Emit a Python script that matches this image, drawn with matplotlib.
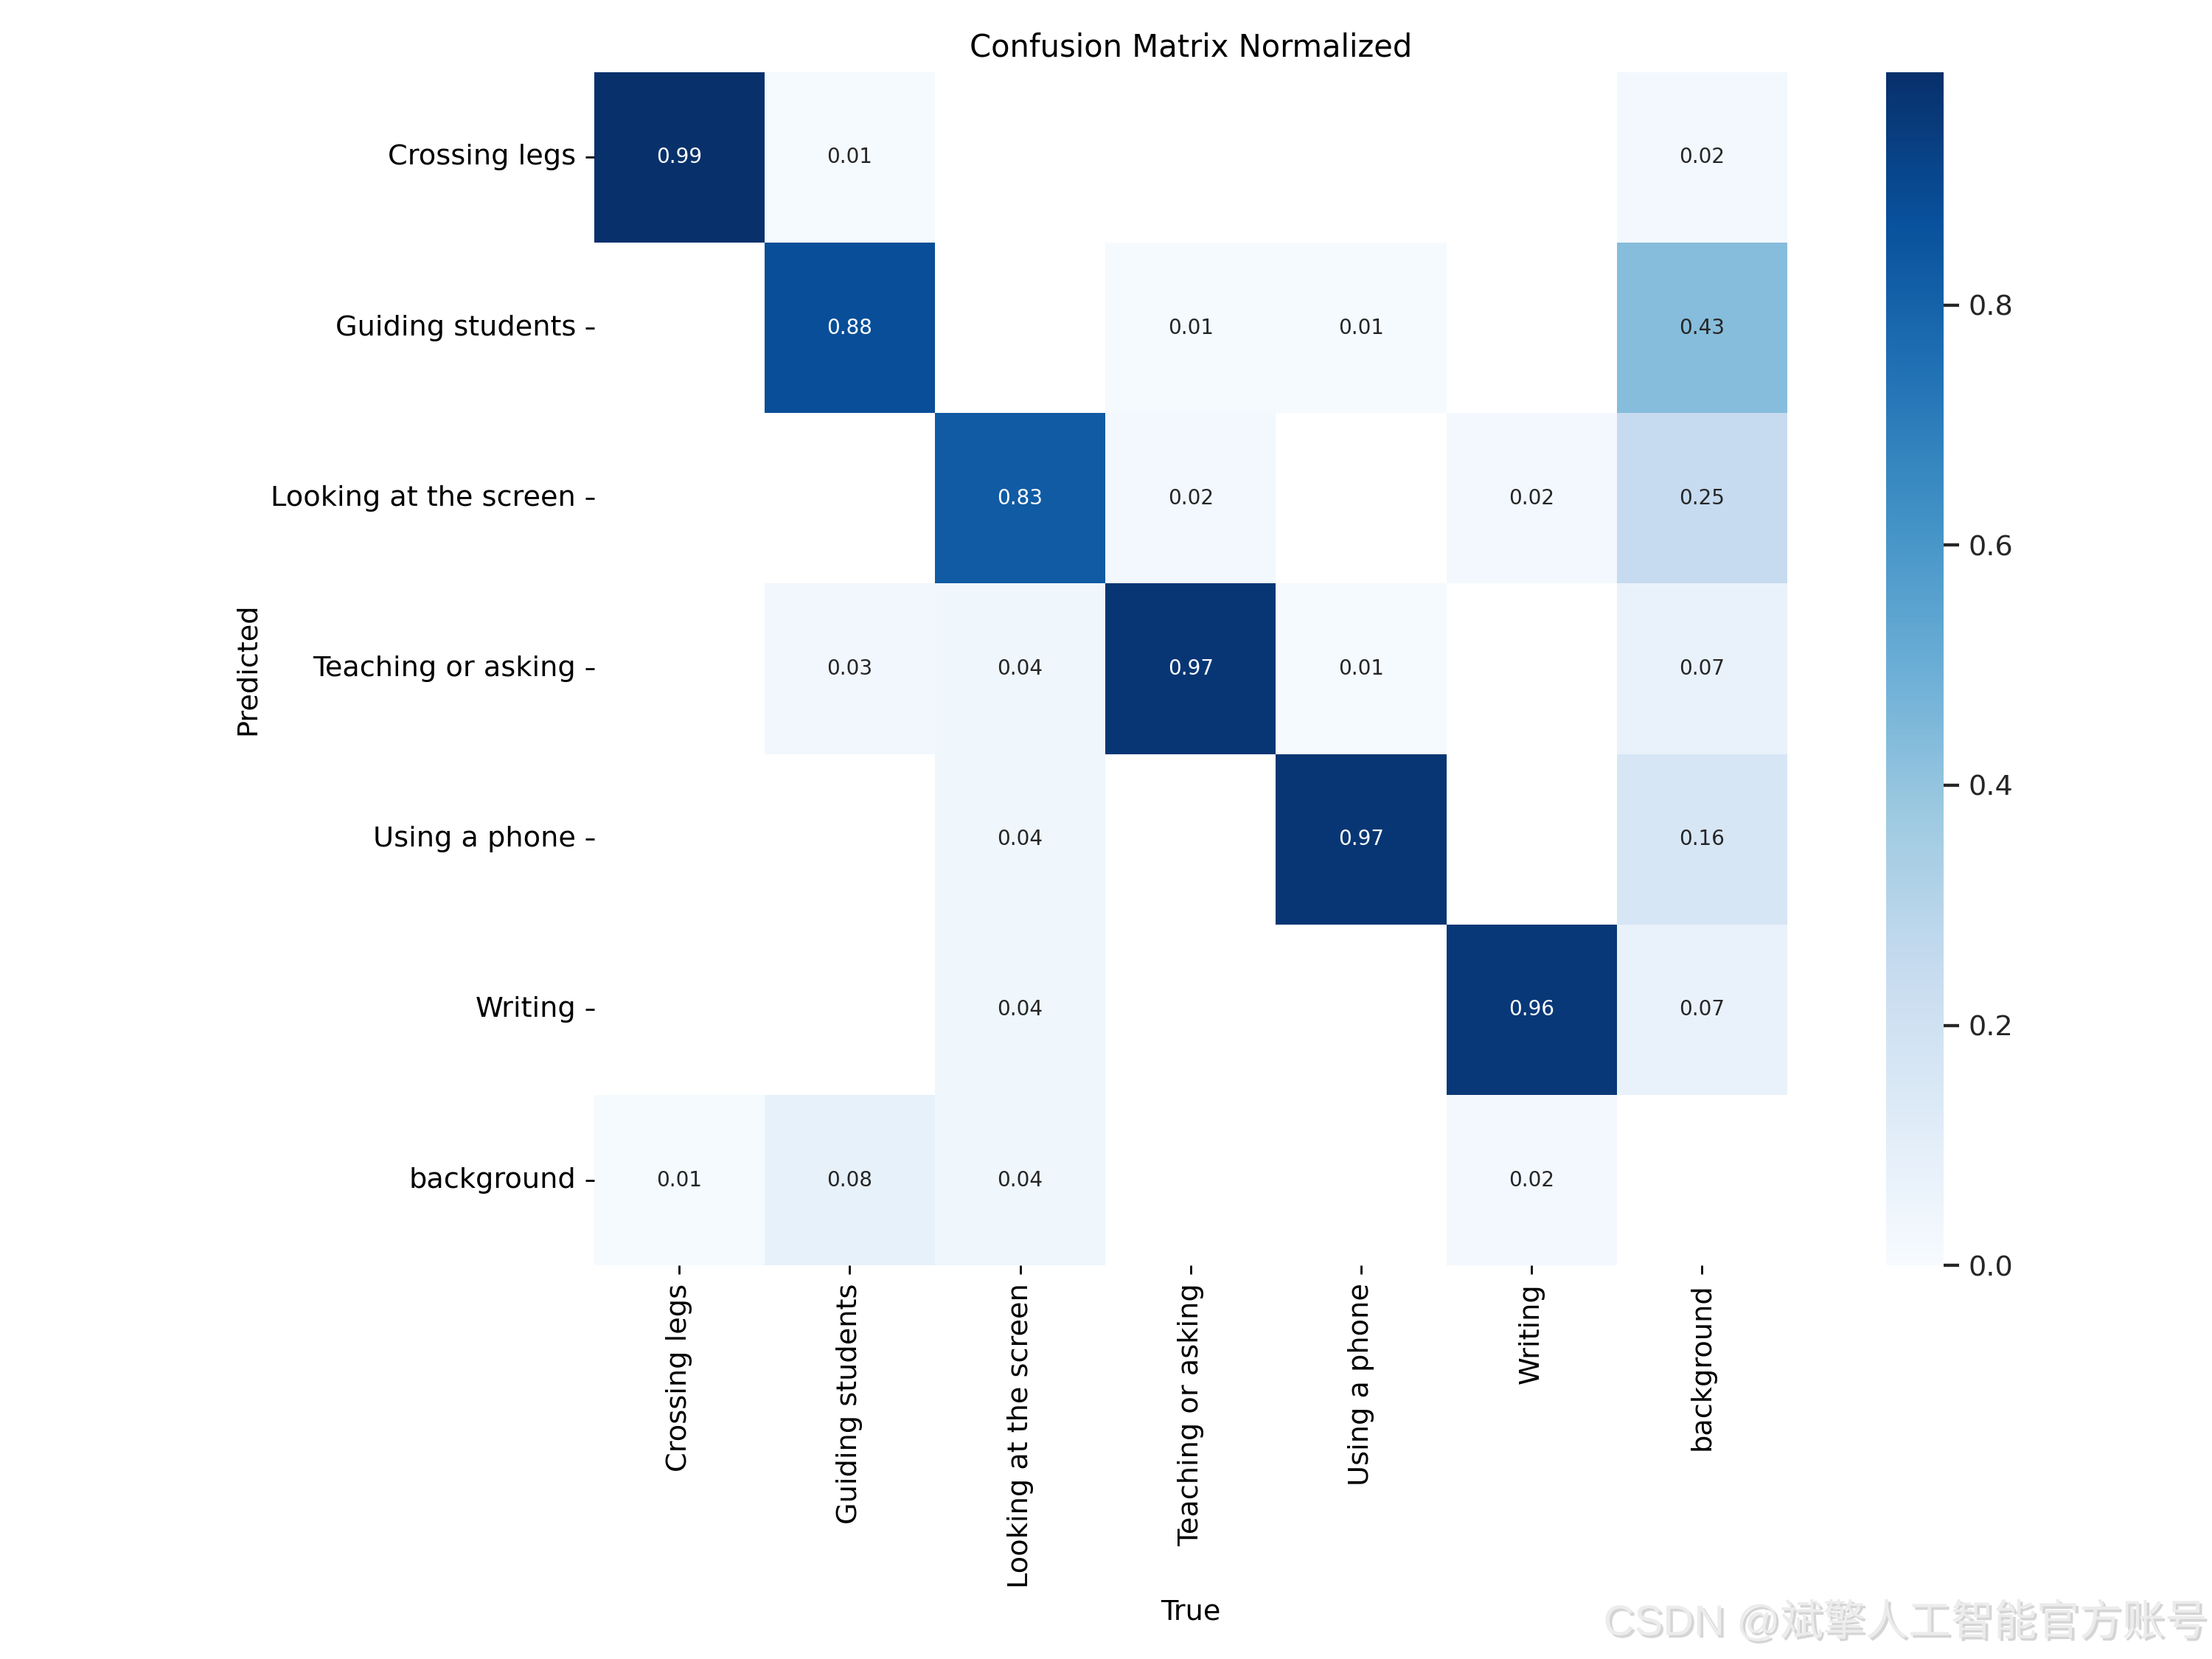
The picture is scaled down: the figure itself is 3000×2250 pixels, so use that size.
import numpy as np
import matplotlib
matplotlib.use("Agg")
import matplotlib.pyplot as plt
import matplotlib.patheffects as pe
import seaborn as sns

names = ["Crossing legs", "Guiding students", "Looking at the screen",
         "Teaching or asking", "Using a phone", "Writing", "background"]

# rows = predicted, columns = true (nan = empty cell)
nan = np.nan
row_crossing = [0.994, 0.01, nan, nan, nan, nan, 0.02]
row_guiding = [nan, 0.88, nan, 0.01, 0.01, nan, 0.43]
row_looking = [nan, nan, 0.83, 0.02, nan, 0.02, 0.25]
row_teaching = [nan, 0.03, 0.04, 0.97, 0.01, nan, 0.07]
row_phone = [nan, nan, 0.04, nan, 0.97, nan, 0.16]
row_writing = [nan, nan, 0.04, nan, nan, 0.96, 0.07]
row_background = [0.01, 0.08, 0.04, nan, nan, 0.02, nan]

array = np.array([row_crossing, row_guiding, row_looking, row_teaching,
                  row_phone, row_writing, row_background])

plt.rcParams["font.family"] = ["DejaVu Sans"]

fig = plt.figure(figsize=(12, 9), dpi=250)
ax = fig.add_axes([0.2685, 0.2372, 0.5395, 0.7194])
cax = fig.add_axes([0.8527, 0.2372, 0.026, 0.7194])

sns.heatmap(array, ax=ax, cbar_ax=cax, annot=True, annot_kws={"size": 8},
            cmap="Blues", fmt=".2f", square=True, vmin=0.0,
            xticklabels=names, yticklabels=names).set_facecolor((1, 1, 1))

ax.set_xlabel("True", fontsize=11)
ax.set_ylabel("Predicted", fontsize=11)
ax.set_title("Confusion Matrix Normalized", fontsize=12)
ax.tick_params(length=3.5, width=0.8, labelsize=11, color="black")
cax.tick_params(right=True, length=6, width=1.25, labelsize=11,
                color=".15", labelcolor=".15")
cax.set_yticks([0.0, 0.2, 0.4, 0.6, 0.8])

fig.text(0.998, 0.022, "CSDN @斌擎人工智能官方账号", ha="right", va="center",
         fontsize=16.7, color="#ececec", weight="light",
         family=["Liberation Sans", "Noto Sans CJK SC"],
         path_effects=[pe.SimplePatchShadow(offset=(1.0, -1.0),
                                            shadow_rgbFace="#c4c4c4",
                                            alpha=0.7),
                       pe.Normal()])

fig.savefig("out.png", dpi=250)
